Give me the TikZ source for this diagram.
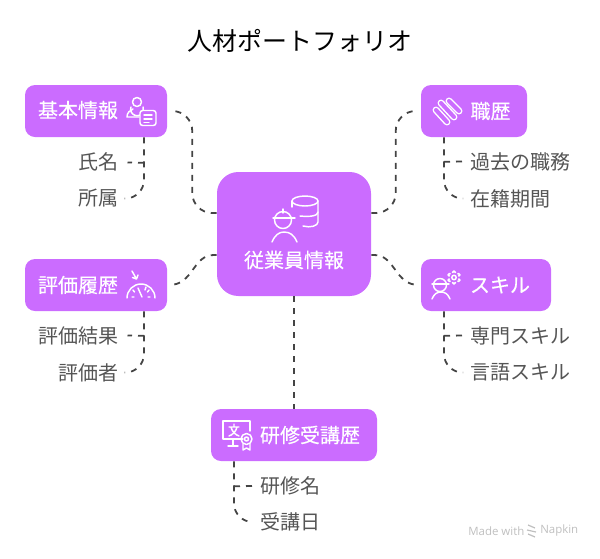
\documentclass[tikz,border=0pt]{standalone}
\usepackage{fontspec}
\setmainfont{Noto Sans CJK JP}
\newfontfamily\hd[FakeBold=0.35]{Noto Sans CJK JP}
\newfontfamily\wm{Open Sans}
\usetikzlibrary{calc}
\definecolor{pv}{HTML}{CB6CFF}
\definecolor{ln}{HTML}{444444}
\definecolor{lb}{HTML}{555555}
\tikzset{
 x=0.75pt,y=-0.75pt,
 box/.style={fill=pv,draw=none,rounded corners=7.5pt,inner sep=0pt,minimum height=39pt},
 head/.style={text=white,font=\hd\fontsize{15}{15}\selectfont,inner sep=0pt,anchor=center},
 sub/.style={text=lb,font=\fontsize{15}{15}\selectfont,inner sep=0pt},
 conn/.style={draw=ln,line width=1.35pt,dash pattern=on 4.5pt off 4.5pt},
 ic/.style={draw=white,line width=1.1pt,line cap=round,line join=round},
}
\begin{document}
\begin{tikzpicture}
\useasboundingbox (0,0) rectangle (600,558);
\node[inner sep=0pt,font=\fontsize{18.7}{18.7}\selectfont,text=black] (title) at (300,41) {人材ポートフォリオ};
% boxes
\node[box,minimum width=115.5pt,minimum height=93pt,rounded corners=16pt] (c) at (294,234) {};
\node[box,minimum width=106.5pt] (b1) at (96,111) {};
\node[box,minimum width=79.5pt] (b2) at (474,111) {};
\node[box,minimum width=106.5pt] (b3) at (96,285) {};
\node[box,minimum width=97.5pt] (b4) at (486,285) {};
\node[box,minimum width=124.5pt] (b5) at (294,435) {};
% heading texts
\node[head] (tc) at (294,260) {従業員情報};
\node[head] (t1) at (78,110) {基本情報};
\node[head] (t2) at (490.5,111) {職歴};
\node[head] (t3) at (78,285) {評価履歴};
\node[head] (t4) at (500,285) {スキル};
\node[head] (t5) at (310,435) {研修受講歴};
% sub labels
\node[sub,anchor=east] (s11) at (118.5,161.5) {氏名};
\node[sub,anchor=east] (s12) at (118.5,198.5) {所属};
\node[sub,anchor=west] (s21) at (470,161.5) {過去の職務};
\node[sub,anchor=west] (s22) at (470,198.5) {在籍期間};
\node[sub,anchor=east] (s31) at (118.5,335.5) {評価結果};
\node[sub,anchor=east] (s32) at (118.5,372.5) {評価者};
\node[sub,anchor=west] (s41) at (470,335.5) {専門スキル};
\node[sub,anchor=west] (s42) at (470,372.5) {言語スキル};
\node[sub,anchor=west] (s51) at (260,486) {研修名};
\node[sub,anchor=west] (s52) at (260,522) {受講日};
% main connectors
\draw[conn,rounded corners=15pt] ($(c.west)+(0,-21)$) -| ($(b1.east)+(25,0)$) -- ($(b1.east)+(3,0)$);
\draw[conn,rounded corners=15pt] ($(c.east)+(0,-21)$) -| ($(b2.west)+(-25,0)$) -- ($(b2.west)+(-3,0)$);
\draw[conn] ($(c.west)+(0,21)$) -- +(-3,0) .. controls ($(c.west)+(-24,21)$) and ($(b3.east)+(26,0)$) .. ($(b3.east)+(2,0)$);
\draw[conn] ($(c.east)+(0,21)$) -- +(3,0) .. controls ($(c.east)+(24,21)$) and ($(b4.west)+(-26,0)$) .. ($(b4.west)+(-2,0)$);
\draw[conn] (c.south) -- (b5.north);
% child connectors
\draw[conn,rounded corners=14pt] ($(b1.south)+(48,0)$) |- ($(s12.east)+(6,0)$);
\draw[conn] ($(b1.south)+(48,25.5)$) -- ($(s11.east)+(9,1)$);
\draw[conn,rounded corners=14pt] ($(b2.south)+(-30,0)$) |- ($(s22.west)+(-7,0)$);
\draw[conn] ($(b2.south)+(-30,24.5)$) -- ($(s21.west)+(-7,0)$);
\draw[conn,rounded corners=14pt] ($(b3.south)+(48,0)$) |- ($(s32.east)+(6,0)$);
\draw[conn] ($(b3.south)+(48,24.5)$) -- ($(s31.east)+(9,0)$);
\draw[conn,rounded corners=14pt] ($(b4.south)+(-42,0)$) |- ($(s42.west)+(-7,0)$);
\draw[conn] ($(b4.south)+(-42,24.5)$) -- ($(s41.west)+(-7,0)$);
\draw[conn,rounded corners=14pt] ($(b5.south)+(-60,0)$) |- ($(s52.west)+(-7,0)$);
\draw[conn] ($(b5.south)+(-60,25)$) -- ($(s51.west)+(-7,0)$);
% icon: basic info
\draw[ic] (137,102) circle (4.5);
\draw[ic] (131,107) arc[start angle=200,end angle=-20,radius=6.5];
\draw[ic] (139,117) -- (127,117) .. controls (127,112) and (130,111) .. (133,109);
\draw[ic,fill=pv,rounded corners=2pt] (140,110.5) rectangle (156,125.5);
\draw[ic] (144,115)--(152,115) (144,119)--(152,119) (144,122.5)--(149,122.5);
% icon: career (capsules)
\foreach \xa/\ya/\xb/\yb in {436/110/447/122,441/103/454/117,449/101/459/111}{
 \draw[white,line width=5.2pt,line cap=round] (\xa,\ya) -- (\xb,\yb);
 \draw[pv,line width=3pt,line cap=round] (\xa,\ya) -- (\xb,\yb);
}
% icon: gauge
\draw[ic] (127,298) arc[start angle=180,end angle=360,radius=14];
\draw[ic] (132,271) -- (136.5,279) (136.5,279)--(132.5,277.5) (136.5,279)--(138,275);
\draw[ic] (138,288) -- (142,297);
\draw[ic] (132,297)--(134,297) (148,297)--(150,297) (133,290)--(134.5,292) (149,290)--(147.5,292) (146,287)--(145,290);
% icon: skill person + gear
\draw[ic] (440,285) circle (6.5);
\draw[ic] (432,284)--(449,284);
\draw[ic] (432,299) .. controls (434,294) and (437,292) .. (441,292) .. controls (445,292) and (448,294) .. (450,299);
\foreach \a in {0,60,...,300}{\draw[ic] ($(454,277.5)+({\a+30}:5.2)$) circle (1.5);}
\fill[pv] (454,277.5) circle (4.8);
\draw[ic] (454,277.5) circle (2.2);
% icon: center
\draw[ic] (283,220) circle (8.5);
\draw[ic] (273,218)--(295,218) (283,209)--(283,213);
\draw[ic] (272,242) .. controls (275,235) and (279,232) .. (284,232) .. controls (290,232) and (294,235) .. (297,242);
\draw[ic] (305,201) ellipse (13 and 5);
\draw[ic] (318,201) -- (318,222) .. controls (318,226) and (310,228) .. (303,226);
\draw[ic] (318,212) .. controls (318,216) and (310,217) .. (300,216);
\draw[ic] (292,201) -- (292,207);
% icon: training
\draw[ic] (243,439) -- (223,439) -- (223,421) -- (250,421) -- (250,431);
\draw[ic] (228,446) -- (238,446) (233,439)--(233,446);
\draw[ic] (229,427)--(239,427) (234,424)--(234,427) (237,427) .. controls (236,432) and (232,435) .. (229,436) (231,427) .. controls (232,432) and (236,435) .. (239,436);
\draw[ic] (246.5,439) circle (5.5) (246.5,439) circle (2);
\draw[ic] (243,444) -- (243,450) -- (246.5,448) -- (250,450) -- (250,444);
% watermark
\node[inner sep=0pt,anchor=west,text=black!25,font=\wm\fontsize{8.6}{8.6}\selectfont] (w1) at (468,531) {Made with};
\node[inner sep=0pt,anchor=west,text=black!25,font=\wm\fontsize{8.6}{8.6}\selectfont] (w2) at (540,531) {Napkin};
\draw[black!25,line width=0.9pt] (528,525)--(535,528) (527,530)--(536,532) (528,534)--(535,537);
\end{tikzpicture}
\end{document}
